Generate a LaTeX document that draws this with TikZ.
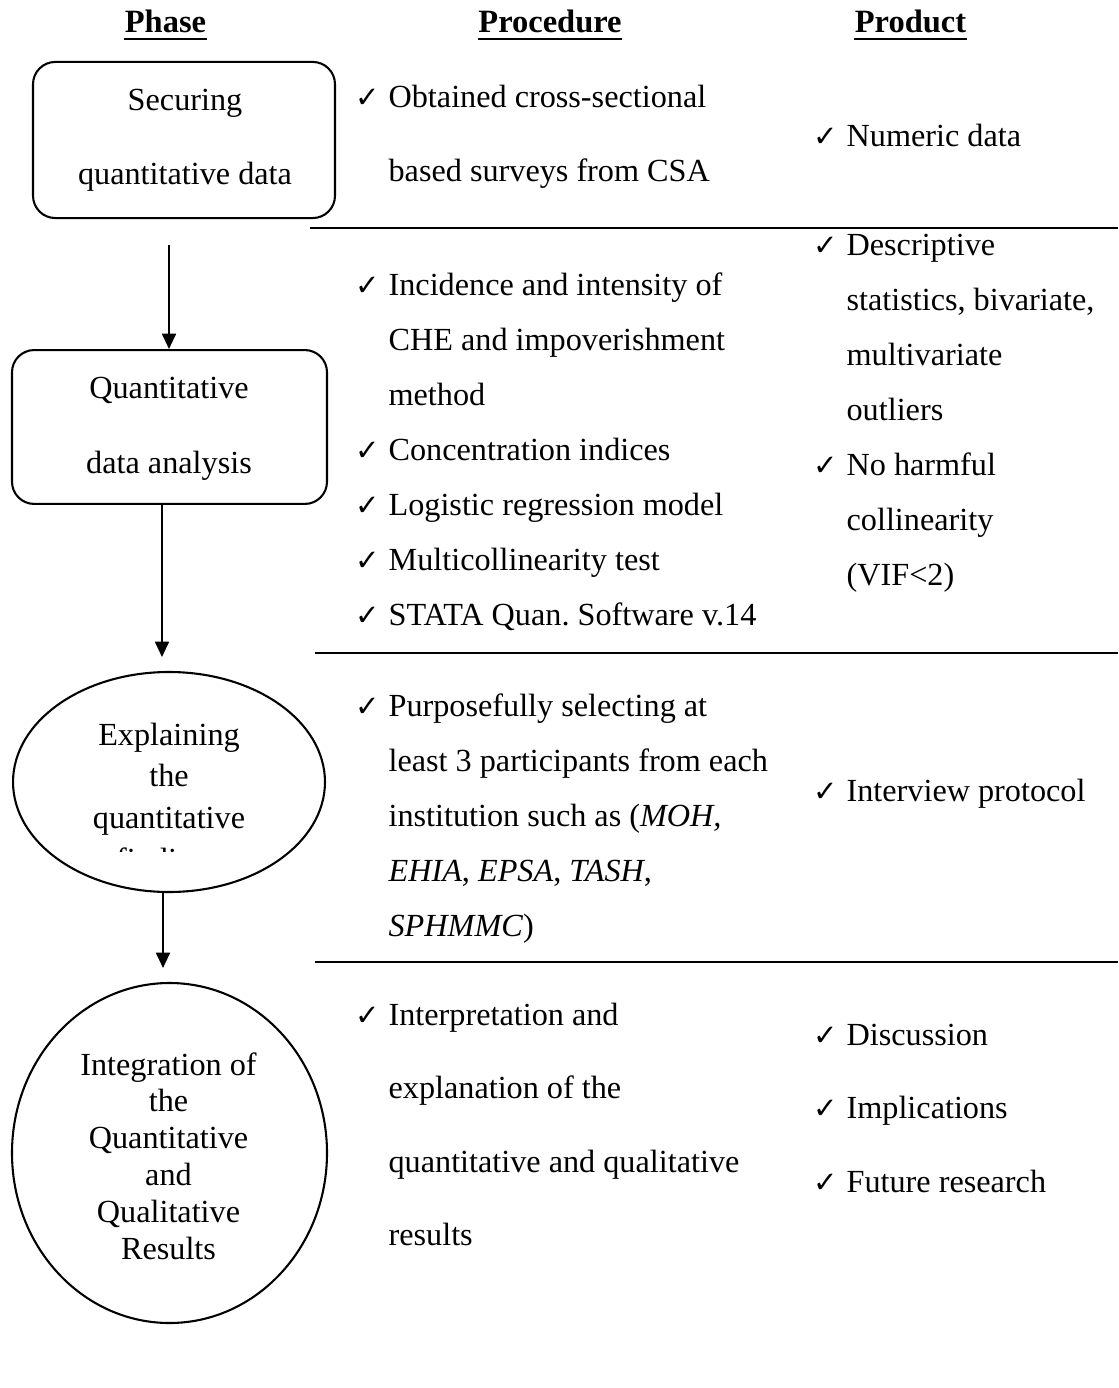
\documentclass[tikz,border=0pt]{standalone}
\usepackage{fontspec}
\setmainfont{Liberation Serif}
\newfontfamily\ckfont{DejaVu Sans}
\usetikzlibrary{shapes.geometric,arrows.meta}
\frenchspacing

% check mark with the gap before the item text
\newcommand{\ck}{\makebox[11.9pt][l]{\ckfont\fontsize{10.5}{10.5}\selectfont ✓}}

\tikzset{
  phasebox/.style={draw, line width=0.75pt, rounded corners=8pt, inner sep=0pt},
  phaseoval/.style={draw, ellipse, line width=0.75pt, inner sep=0pt},
  head/.style={anchor=base, inner sep=0pt, font=\fontsize{11.7}{14}\selectfont\bfseries},
  txt/.style={anchor=base west, inner sep=0pt},
  ctxt/.style={anchor=base, inner sep=0pt},
  sp55/.style={font=\fontsize{11.6}{19.8}\selectfont},
  sp74/.style={font=\fontsize{11.6}{26.5}\selectfont},
  arr/.style={-{Triangle[width=5pt,length=5.5pt]}, line width=0.75pt},
  sepline/.style={line width=0.9pt},
  uline/.style={line width=0.75pt}
}

\begin{document}
\begin{tikzpicture}[x=0.36pt, y=-0.36pt]
  \useasboundingbox (0,0) rectangle (1118,1388);

  % column heads
  \node[head] (phase) at (165.5,33) {Phase};
  \node[head] (proc) at (550,33) {Procedure};
  \node[head] (prod) at (910.5,33) {Product};
  \foreach \h in {phase,proc,prod}
    \draw[uline] ([yshift=-2.2pt]\h.base west) -- ([yshift=-2.2pt]\h.base east);

  % phases
  \node[phasebox, minimum width=108.7pt, minimum height=56.2pt] (secure) at (184,140) {};
  \node[phasebox, minimum width=113.4pt, minimum height=55.4pt] (analysis) at (169.5,427) {};
  \node[phaseoval, minimum width=112.3pt, minimum height=79.2pt] (explain) at (169,782) {};
  \node[phaseoval, minimum width=113.4pt, minimum height=122.4pt] (integ) at (169.5,1153) {};

  \node[ctxt, sp74] (securetxt) at (185,111)
    {\begin{tabular}[t]{@{}c@{}}Securing\\quantitative data\end{tabular}};
  \node[ctxt, font=\fontsize{11.6}{27}\selectfont] (analysistxt) at (169,399)
    {\begin{tabular}[t]{@{}c@{}}Quantitative\\data analysis\end{tabular}};
  \begin{scope}
    \clip (20,690) rectangle (320,851);
    \node[ctxt, font=\fontsize{11.6}{15.1}\selectfont] (explaintxt) at (169,745)
      {\begin{tabular}[t]{@{}c@{}}Explaining\\the\\quantitative\\findings\end{tabular}};
  \end{scope}
  \node[ctxt, font=\fontsize{11.6}{13.25}\selectfont] (integtxt) at (168.5,1075)
    {\begin{tabular}[t]{@{}c@{}}Integration of\\the\\Quantitative\\and\\Qualitative\\Results\end{tabular}};

  % arrows between phases
  \coordinate (a1top) at (169,245);
  \coordinate (a2tip) at (162,657);
  \coordinate (a3tip) at (163,968);
  \draw[arr] (a1top) -- (a1top |- analysis.north);
  \draw[arr] (analysis.south -| a2tip) -- (a2tip);
  \draw[arr] (explain.south -| a3tip) -- (a3tip);

  % row separators
  \draw[sepline] (310,228) -- (1118,228);
  \draw[sepline] (315,653) -- (1118,653);
  \draw[sepline] (315,962) -- (1118,962);

  % procedures
  \node[txt, sp74] (proc1) at (355,108)
    {\begin{tabular}[t]{@{}l@{}l@{}}\ck & Obtained cross-sectional\\ & based surveys from CSA\end{tabular}};
  \node[txt, sp55] (proc2) at (355,296)
    {\begin{tabular}[t]{@{}l@{}l@{}}\ck & Incidence and intensity of\\ & CHE and impoverishment\\ & method\\
     \ck & Concentration indices\\ \ck & Logistic regression model\\ \ck & Multicollinearity test\\
     \ck & STATA Quan. Software v.14\end{tabular}};
  \node[txt, sp55] (proc3) at (355,716)
    {\begin{tabular}[t]{@{}l@{}l@{}}\ck & Purposefully selecting at\\ & least 3 participants from each\\
     & institution such as (\textit{MOH,}\\ & \textit{EHIA}, \textit{EPSA}, \textit{TASH},\\ & \textit{SPHMMC})\end{tabular}};
  \node[txt, sp74] (proc4) at (355,1025)
    {\begin{tabular}[t]{@{}l@{}l@{}}\ck & Interpretation and\\ & explanation of the\\
     & quantitative and qualitative\\ & results\end{tabular}};

  % products
  \node[txt, sp55] (prod1) at (813,147)
    {\begin{tabular}[t]{@{}l@{}l@{}}\ck & Numeric data\end{tabular}};
  \node[txt, sp55] (prod2) at (813,256)
    {\begin{tabular}[t]{@{}l@{}l@{}}\ck & Descriptive\\ & statistics, bivariate,\\ & multivariate\\ & outliers\\
     \ck & No harmful\\ & collinearity\\ & (VIF<2)\end{tabular}};
  \node[txt, sp55] (prod3) at (813,801)
    {\begin{tabular}[t]{@{}l@{}l@{}}\ck & Interview protocol\end{tabular}};
  \node[txt, sp74] (prod4) at (813,1045)
    {\begin{tabular}[t]{@{}l@{}l@{}}\ck & Discussion\\ \ck & Implications\\ \ck & Future research\end{tabular}};
\end{tikzpicture}
\end{document}
